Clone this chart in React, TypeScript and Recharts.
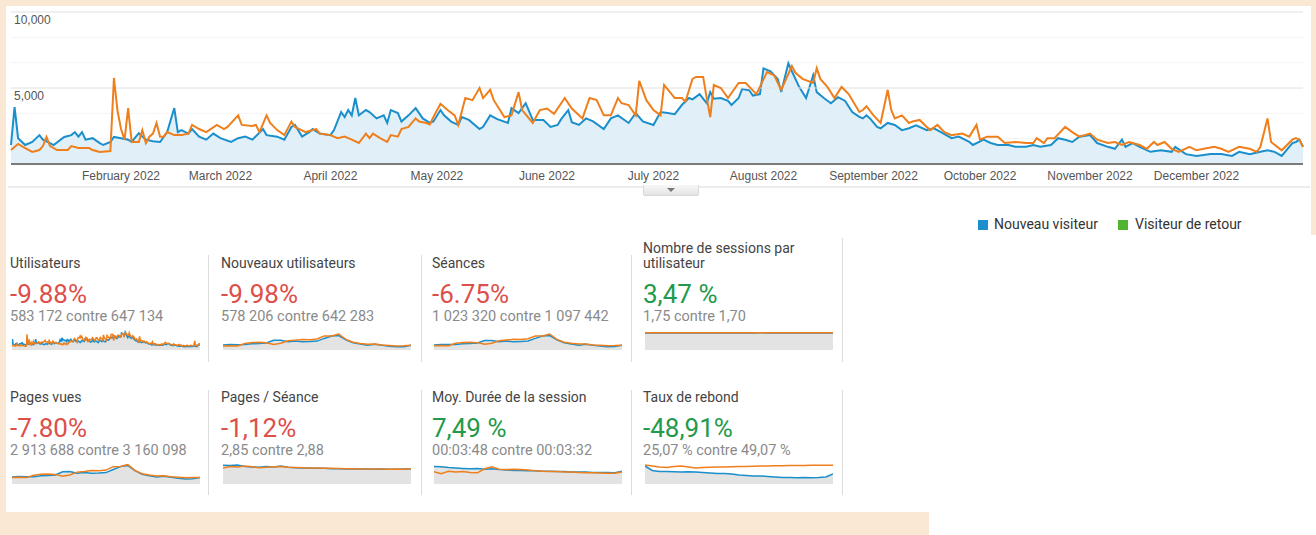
import React from 'react';
import { ComposedChart, Area, Line, XAxis, YAxis, CartesianGrid, ReferenceLine } from 'recharts';

const BLUE = '#1a8fcb';
const ORANGE = '#ee7f1c';
const GREEN = '#50b432';
const PEACH = '#fae8d4';
const RED_TXT = '#dd4f4a';
const GREEN_TXT = '#239a4b';

// main chart: day of year (0 = Jan 1) and daily visitors
const blueDays = [0, 1, 2, 4, 6, 8, 9, 11, 12, 15, 17, 18, 19, 20, 21, 23, 25, 26, 28, 29, 31, 33, 34, 36, 38, 40, 42, 44, 46, 47, 48, 50, 51, 53, 55, 57, 59, 62, 64, 66, 68, 71, 72, 75, 77, 79, 80, 82, 84, 85, 87, 90, 91, 93, 94, 95, 96, 97, 98, 100, 101, 103, 105, 106, 107, 109, 110, 112, 114, 116, 118, 119, 121, 122, 124, 126, 127, 129, 132, 133, 135, 137, 140, 141, 143, 145, 147, 150, 152, 154, 155, 157, 158, 160, 162, 164, 167, 169, 171, 174, 176, 178, 181, 183, 185, 187, 189, 191, 192, 194, 196, 197, 198, 200, 202, 203, 205, 206, 208, 209, 211, 212, 214, 216, 217, 219, 220, 221, 222, 224, 226, 227, 229, 231, 233, 235, 237, 239, 240, 241, 242, 244, 245, 247, 249, 251, 253, 255, 258, 260, 262, 265, 267, 270, 271, 274, 276, 278, 281, 283, 286, 288, 290, 293, 295, 297, 299, 301, 304, 306, 309, 311, 313, 314, 316, 318, 321, 324, 327, 328, 331, 334, 338, 341, 344, 346, 349, 352, 354, 356, 358, 361, 362, 363, 364];
const blueVisits = [1250, 3750, 1700, 1250, 1450, 1900, 1600, 1380, 1250, 1780, 1900, 2100, 1800, 2100, 1600, 1700, 1380, 1250, 1450, 1780, 1700, 1600, 1450, 2030, 1600, 1500, 1450, 2100, 3680, 2100, 2230, 2000, 2300, 1800, 1600, 2000, 1700, 1450, 1700, 1800, 1600, 2300, 1900, 1800, 1600, 2440, 2570, 1800, 2100, 2300, 2000, 1900, 2230, 3420, 3090, 3550, 3200, 4340, 3200, 3550, 3420, 3000, 3200, 2700, 3550, 3350, 2790, 3200, 3680, 3000, 2700, 2800, 3550, 3200, 2790, 2570, 3090, 2900, 2300, 2450, 3200, 2950, 2700, 3680, 3350, 4000, 2900, 2900, 2440, 2570, 2950, 3550, 2750, 2570, 3000, 2800, 2300, 3000, 3200, 2700, 3350, 2800, 2570, 3420, 3350, 3280, 3880, 4340, 4250, 4600, 4000, 4730, 4300, 4340, 4150, 3880, 4340, 4940, 4850, 4500, 4600, 6290, 6100, 5600, 4730, 6620, 6100, 5600, 5100, 4340, 5840, 4730, 4340, 4000, 4400, 4150, 3420, 3100, 3000, 3200, 3000, 2440, 2350, 2700, 2570, 2230, 2350, 2550, 2230, 2350, 2100, 1700, 1800, 1450, 1250, 1600, 1380, 1250, 1250, 1130, 1130, 1250, 1130, 1250, 1700, 1600, 1450, 1800, 1900, 1380, 1130, 1000, 1600, 1130, 1380, 1130, 800, 900, 800, 1130, 650, 530, 650, 650, 530, 800, 650, 800, 900, 800, 530, 1380, 1450, 1600, 1130];
const orangeDays = [0, 2, 4, 6, 8, 9, 10, 11, 13, 16, 17, 19, 22, 23, 25, 28, 29, 30, 31, 32, 33, 34, 36, 37, 38, 39, 40, 41, 42, 43, 44, 46, 48, 50, 51, 53, 55, 58, 60, 61, 64, 65, 68, 69, 70, 72, 73, 75, 77, 79, 80, 83, 86, 87, 90, 92, 94, 96, 98, 100, 101, 102, 104, 106, 107, 109, 110, 112, 114, 115, 117, 118, 119, 121, 123, 125, 126, 128, 130, 132, 133, 135, 136, 139, 141, 143, 144, 147, 149, 151, 153, 156, 158, 161, 163, 165, 167, 169, 171, 172, 174, 176, 177, 179, 181, 183, 184, 187, 189, 190, 192, 193, 195, 196, 197, 198, 200, 202, 205, 207, 210, 213, 215, 217, 220, 221, 223, 226, 227, 228, 230, 232, 234, 236, 239, 240, 241, 243, 245, 247, 248, 249, 251, 253, 254, 256, 258, 259, 261, 263, 265, 268, 270, 272, 273, 275, 278, 280, 283, 286, 288, 289, 291, 292, 294, 297, 299, 301, 304, 306, 309, 311, 313, 315, 318, 320, 322, 323, 325, 327, 329, 332, 334, 339, 341, 343, 346, 349, 351, 352, 354, 355, 358, 361, 362, 363, 364];
const orangeVisits = [920, 1320, 1050, 790, 920, 1180, 1780, 1180, 920, 920, 1180, 1050, 1050, 920, 790, 850, 5660, 3500, 2300, 1600, 3680, 1450, 1450, 2230, 1380, 1800, 2000, 2700, 1800, 1800, 2100, 1900, 1900, 2000, 2570, 2300, 2100, 2570, 2300, 2440, 3200, 2570, 2500, 2570, 2100, 3200, 2700, 2230, 1900, 2790, 2440, 2100, 2300, 2000, 1900, 1700, 1800, 1600, 1380, 2000, 1700, 2000, 1700, 1450, 1900, 1800, 2300, 2440, 3000, 2790, 2700, 2600, 3090, 3960, 3550, 3200, 2570, 4340, 4200, 5000, 4340, 4880, 4200, 3090, 3200, 4730, 3550, 2700, 3550, 3650, 3300, 4340, 3650, 3000, 4340, 4200, 3200, 3200, 4340, 4000, 3880, 3200, 5470, 4200, 3550, 3200, 5200, 4340, 4340, 4100, 5600, 5730, 5730, 4340, 3090, 5200, 5000, 4340, 5330, 5330, 4600, 6050, 5840, 4880, 6440, 6000, 5600, 5330, 6300, 5600, 5070, 4340, 5070, 4600, 3420, 3550, 3800, 3200, 2700, 4880, 3550, 3000, 3200, 2700, 2800, 2900, 2440, 2230, 2570, 2100, 1900, 2000, 1800, 2570, 1600, 1800, 1800, 1380, 1450, 1380, 1380, 1700, 1380, 1700, 1700, 2440, 2100, 1800, 2000, 1600, 1380, 1450, 1250, 1450, 1250, 1000, 1450, 1250, 1450, 1000, 800, 1130, 900, 1130, 1000, 800, 1130, 1000, 800, 1130, 3000, 1450, 900, 1600, 1700, 1600, 1130];

const gridValues = [0, 1667, 3333, 5000, 6667, 8333, 10000];
const labeledValues = [5000, 10000];
const valueLabels = ['5,000', '10,000'];
const monthStartDays = [31, 59, 90, 120, 151, 181, 212, 243, 273, 304, 334];
const monthLabels = ['February 2022', 'March 2022', 'April 2022', 'May 2022', 'June 2022', 'July 2022', 'August 2022', 'September 2022', 'October 2022', 'November 2022', 'December 2022'];

// sparklines, one value every 14 days
const sparkDays = [0, 14, 28, 42, 56, 70, 84, 98, 112, 126, 140, 154, 168, 182, 196, 210, 224, 238, 252, 266, 280, 294, 308, 322, 336, 350, 364];
const newUsersBlue = [1300, 1500, 1400, 1500, 1750, 1850, 2050, 3150, 3150, 2550, 2850, 2550, 2650, 2850, 3950, 4950, 5150, 3350, 2150, 1650, 1150, 1550, 1150, 780, 540, 580, 1150];
const newUsersOrange = [850, 950, 850, 1850, 2250, 2350, 2150, 1450, 1950, 2950, 3250, 3550, 3450, 3750, 4950, 4950, 5750, 3550, 2350, 1850, 1550, 1650, 1250, 1050, 850, 950, 1150];
const sessionsBlue = [2100, 2500, 2400, 2500, 3000, 3200, 3500, 5300, 5300, 4400, 4900, 4400, 4600, 4900, 6800, 8500, 8800, 5800, 3700, 2900, 2000, 2700, 2000, 1400, 950, 1000, 2000];
const sessionsOrange = [1600, 1700, 1600, 3300, 3900, 4100, 3800, 2600, 3400, 5100, 5600, 6100, 6000, 6500, 8500, 8500, 9900, 6100, 4100, 3300, 2800, 2900, 2200, 1900, 1550, 1700, 2000];
const perUserBlue = [1.75, 1.74, 1.76, 1.75, 1.74, 1.76, 1.75, 1.74, 1.75, 1.76, 1.74, 1.75, 1.76, 1.75, 1.74, 1.75, 1.76, 1.75, 1.74, 1.76, 1.75, 1.74, 1.75, 1.76, 1.75, 1.74, 1.75];
const perUserOrange = [1.77, 1.78, 1.76, 1.78, 1.77, 1.78, 1.77, 1.76, 1.78, 1.77, 1.78, 1.77, 1.76, 1.78, 1.77, 1.78, 1.77, 1.76, 1.77, 1.78, 1.77, 1.76, 1.77, 1.78, 1.77, 1.76, 1.77];
const pageviewsBlue = [4500, 4800, 4600, 4700, 5600, 5800, 6200, 9000, 9200, 7800, 8300, 7700, 7900, 8300, 11000, 13500, 14500, 10000, 6800, 5600, 4400, 5000, 4200, 3300, 2700, 2800, 4000];
const pageviewsOrange = [3900, 4100, 3900, 5900, 6800, 7100, 6700, 5000, 6200, 8700, 9300, 10100, 9900, 10500, 13500, 13600, 15400, 10200, 7300, 6100, 5400, 5500, 4600, 4200, 3700, 3900, 4000];
const pagesPerSessionBlue = [3.2, 3.18, 3.22, 3.12, 3.08, 3.05, 3.12, 3.08, 3.15, 3.05, 3.02, 3.0, 3.0, 2.98, 2.98, 2.95, 2.95, 2.93, 2.94, 2.92, 2.92, 2.9, 2.92, 2.9, 2.9, 2.92, 2.95];
const pagesPerSessionOrange = [3.0, 3.12, 3.08, 3.15, 3.1, 3.02, 3.05, 3.1, 3.12, 3.06, 3.04, 3.02, 3.0, 3.0, 2.98, 2.98, 2.96, 2.95, 2.95, 2.93, 2.93, 2.92, 2.92, 2.9, 2.92, 2.9, 2.95];
const durationBlue = [238, 236, 232, 230, 228, 226, 228, 224, 226, 222, 220, 218, 218, 216, 216, 214, 214, 212, 212, 210, 210, 210, 208, 208, 208, 206, 214];
const durationOrange = [212, 202, 214, 210, 212, 208, 206, 226, 236, 224, 222, 224, 222, 220, 216, 214, 212, 212, 210, 210, 208, 206, 206, 205, 204, 204, 210];
const bounceBlue = [47, 38, 36, 36, 35.5, 35, 35.5, 35, 34, 33, 32, 32, 31, 29, 28, 27, 27, 26, 25, 24, 24, 23.5, 24, 23.5, 24, 25, 31];
const bounceOrange = [49, 47, 45, 44, 46, 47, 45, 43, 44, 44.5, 45, 45, 45.5, 46, 46, 46.5, 47, 47, 47.5, 47.5, 48, 48, 48, 48.5, 48.5, 48.5, 48.5];

type Pt = { d: number; v: number };
const toPts = (days: number[], vals: number[]): Pt[] => days.map((d, i) => ({ d, v: vals[i] }));

const FONT_UI = 'Roboto, "Liberation Sans", Arial, sans-serif';
const FONT_AXIS = '"Liberation Sans", Arial, sans-serif';

function MonthTick({ x, payload }: any) {
  const idx = monthStartDays.indexOf(payload.value);
  return (
    <text x={x} y={176} textAnchor="middle" dominantBaseline="central" fill="#555" fontSize={12} fontFamily={FONT_AXIS}>
      {monthLabels[idx]}
    </text>
  );
}

function ValueTick({ y, payload }: any) {
  const idx = labeledValues.indexOf(payload.value);
  if (idx < 0) return <g />;
  return (
    <text x={14} y={y + 8} dominantBaseline="central" textAnchor="start" fill="#555" fontSize={12} fontFamily={FONT_AXIS}>
      {valueLabels[idx]}
    </text>
  );
}

function MainChart() {
  const blue = toPts(blueDays, blueVisits);
  const orange = toPts(orangeDays, orangeVisits);
  return (
    <ComposedChart width={1316} height={190} margin={{ top: 12, right: 13, left: 11, bottom: 0 }}>
      <CartesianGrid horizontal vertical={false} stroke="#f3f3f3" />
      <ReferenceLine y={5000} stroke="#e6e6e6" />
      <ReferenceLine y={10000} stroke="#e6e6e6" />
      <XAxis
        type="number"
        dataKey="d"
        domain={[0, 364]}
        ticks={monthStartDays}
        interval={0}
        height={26}
        tickLine={false}
        axisLine={{ stroke: '#7a7a7a', strokeWidth: 2 }}
        tick={<MonthTick />}
      />
      <YAxis
        type="number"
        domain={[0, 10000]}
        ticks={gridValues}
        interval={0}
        mirror
        width={60}
        axisLine={false}
        tickLine={false}
        tick={<ValueTick />}
      />
      <Area data={blue} dataKey="v" type="linear" stroke={BLUE} strokeWidth={2} fill="#e1f0f8" fillOpacity={1} isAnimationActive={false} />
      <Line data={orange} dataKey="v" type="linear" stroke={ORANGE} strokeWidth={2} dot={false} isAnimationActive={false} />
    </ComposedChart>
  );
}

interface SparklineProps {
  blue: Pt[];
  orange: Pt[];
  domain: [number, number];
}

function Sparkline({ blue, orange, domain }: SparklineProps) {
  return (
    <ComposedChart width={188} height={20} margin={{ top: 0, right: 0, left: 0, bottom: 0 }}>
      <XAxis type="number" dataKey="d" domain={[0, 364]} hide />
      <YAxis type="number" domain={domain} hide allowDataOverflow />
      <Area data={blue} dataKey="v" type="linear" baseValue={domain[0]} stroke="none" fill="#e3e3e3" fillOpacity={1} isAnimationActive={false} />
      <Line data={blue} dataKey="v" type="linear" stroke={BLUE} strokeWidth={1.5} dot={false} isAnimationActive={false} />
      <Line data={orange} dataKey="v" type="linear" stroke={ORANGE} strokeWidth={1.5} dot={false} isAnimationActive={false} />
    </ComposedChart>
  );
}

interface CardDef {
  title: string[];
  pct: string;
  good: boolean;
  sub: string;
  blue: Pt[];
  orange: Pt[];
  domain: [number, number];
}

const CARDS: CardDef[] = [
  { title: ['Utilisateurs'], pct: '-9.88%', good: false, sub: '583 172 contre 647 134', blue: toPts(blueDays, blueVisits), orange: toPts(orangeDays, orangeVisits), domain: [-800, 7500] },
  { title: ['Nouveaux utilisateurs'], pct: '-9.98%', good: false, sub: '578 206 contre 642 283', blue: toPts(sparkDays, newUsersBlue), orange: toPts(sparkDays, newUsersOrange), domain: [-800, 7400] },
  { title: ['Séances'], pct: '-6.75%', good: false, sub: '1 023 320 contre 1 097 442', blue: toPts(sparkDays, sessionsBlue), orange: toPts(sparkDays, sessionsOrange), domain: [-1400, 12700] },
  { title: ['Nombre de sessions par', 'utilisateur'], pct: '3,47 %', good: true, sub: '1,75 contre 1,70', blue: toPts(sparkDays, perUserBlue), orange: toPts(sparkDays, perUserOrange), domain: [0, 2.05] },
  { title: ['Pages vues'], pct: '-7.80%', good: false, sub: '2 913 688 contre 3 160 098', blue: toPts(sparkDays, pageviewsBlue), orange: toPts(sparkDays, pageviewsOrange), domain: [-1700, 15800] },
  { title: ['Pages / Séance'], pct: '-1,12%', good: false, sub: '2,85 contre 2,88', blue: toPts(sparkDays, pagesPerSessionBlue), orange: toPts(sparkDays, pagesPerSessionOrange), domain: [1.8, 3.3] },
  { title: ['Moy. Durée de la session'], pct: '7,49 %', good: true, sub: '00:03:48 contre 00:03:32', blue: toPts(sparkDays, durationBlue), orange: toPts(sparkDays, durationOrange), domain: [150, 250] },
  { title: ['Taux de rebond'], pct: '-48,91%', good: true, sub: '25,07 % contre 49,07 %', blue: toPts(sparkDays, bounceBlue), orange: toPts(sparkDays, bounceOrange), domain: [11, 51] },
];

const COL_X = [10, 221, 432, 643];

function Card({ card, col, row }: { card: CardDef; col: number; row: number }) {
  const left = COL_X[col];
  const dy = row * 134;
  const abs = { position: 'absolute' as const, left, whiteSpace: 'nowrap' as const, fontFamily: FONT_UI };
  return (
    <>
      <div style={{ ...abs, top: 256 + dy - (card.title.length - 1) * 15, fontSize: 14, lineHeight: '15px', color: '#444' }}>
        {card.title.map((t) => (
          <div key={t}>{t}</div>
        ))}
      </div>
      <div style={{ ...abs, top: 279 + dy, fontSize: 26, lineHeight: '30px', color: card.good ? GREEN_TXT : RED_TXT }}>{card.pct}</div>
      <div style={{ ...abs, top: 309 + dy, fontSize: 14.5, lineHeight: '16px', color: '#8a8a8a' }}>{card.sub}</div>
      <div style={{ position: 'absolute', left: left + 2, top: 330 + dy }}>
        <Sparkline blue={card.blue} orange={card.orange} domain={card.domain} />
      </div>
    </>
  );
}

const DIVIDERS = [
  { x: 208, top: 255, bottom: 362 },
  { x: 421, top: 255, bottom: 362 },
  { x: 631, top: 255, bottom: 362 },
  { x: 842, top: 238, bottom: 362 },
  { x: 208, top: 390, bottom: 495 },
  { x: 421, top: 390, bottom: 495 },
  { x: 631, top: 390, bottom: 495 },
  { x: 842, top: 390, bottom: 495 },
];

export default function App() {
  return (
    <div style={{ position: 'absolute', left: 0, top: 0, width: 1316, height: 535, background: PEACH, overflow: 'hidden' }}>
      <div style={{ position: 'absolute', left: 6, top: 6, width: 1310, height: 529, background: '#fff' }} />
      <div style={{ position: 'absolute', left: 1311, top: 0, width: 5, height: 235, background: PEACH }} />
      <div style={{ position: 'absolute', left: 0, top: 512, width: 929, height: 23, background: PEACH }} />

      <div style={{ position: 'absolute', left: 0, top: 0 }}>
        <MainChart />
      </div>

      {/* panel bottom edge + collapse tab */}
      <div style={{ position: 'absolute', left: 8, top: 186, width: 1302, height: 2, background: '#ececec' }} />
      <div
        style={{
          position: 'absolute',
          left: 643,
          top: 185,
          width: 54,
          height: 10,
          background: 'linear-gradient(#f7f7f7, #e4e4e4)',
          border: '1px solid #d8d8d8',
          borderTop: 'none',
          borderRadius: '0 0 2px 2px',
        }}
      >
        <div
          style={{
            position: 'absolute',
            left: 23,
            top: 3,
            width: 0,
            height: 0,
            borderLeft: '4px solid transparent',
            borderRight: '4px solid transparent',
            borderTop: '4px solid #777',
          }}
        />
      </div>

      {/* legend */}
      <div style={{ position: 'absolute', left: 978, top: 220, width: 10, height: 10, background: BLUE }} />
      <div style={{ position: 'absolute', left: 994, top: 216, fontFamily: FONT_UI, fontSize: 14, lineHeight: '16px', color: '#333', whiteSpace: 'nowrap' }}>
        Nouveau visiteur
      </div>
      <div style={{ position: 'absolute', left: 1118, top: 220, width: 10, height: 10, background: GREEN }} />
      <div style={{ position: 'absolute', left: 1135, top: 216, fontFamily: FONT_UI, fontSize: 14, lineHeight: '16px', color: '#333', whiteSpace: 'nowrap' }}>
        Visiteur de retour
      </div>

      {DIVIDERS.map((d, i) => (
        <div key={i} style={{ position: 'absolute', left: d.x, top: d.top, width: 1, height: d.bottom - d.top, background: '#dcdcdc' }} />
      ))}

      {CARDS.map((c, i) => (
        <Card key={i} card={c} col={i % 4} row={Math.floor(i / 4)} />
      ))}
    </div>
  );
}
